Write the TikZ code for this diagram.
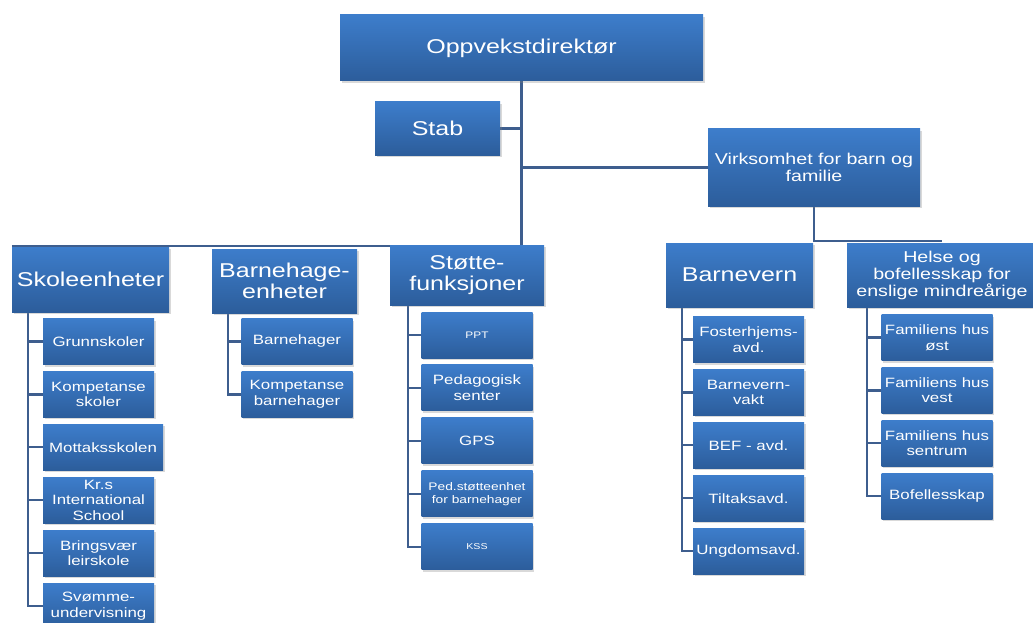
\documentclass[tikz,border=0pt]{standalone}
\usepackage{fontspec}
\setmainfont{Liberation Sans}[FakeStretch=1.25]
\usetikzlibrary{shadows,backgrounds}
\definecolor{boxtop}{RGB}{61,125,203}
\definecolor{boxbot}{RGB}{44,93,155}
\definecolor{linkcol}{RGB}{62,94,142}
\tikzset{
	unit/.style     = {rectangle, top color=boxtop, bottom color=boxbot, text=white, align=center, inner sep=1pt,
	                   drop shadow={shadow xshift=1.5pt, shadow yshift=-2pt, opacity=0.3}},
	head/.style     = {unit, font=\fontsize{20}{21}\selectfont},
	mid/.style      = {unit, font=\fontsize{15.7}{17}\selectfont},
	sub/.style      = {unit, font=\fontsize{13.5}{15.5}\selectfont, minimum width=111pt, minimum height=46pt, node distance=52.9pt},
	smalltxt/.style = {font=\fontsize{9.5}{11}\selectfont},
	link/.style     = {draw=linkcol, line width=2.2pt},
}

\begin{document}
\begin{tikzpicture}[x=1pt, y=-1pt]
		\useasboundingbox (0,0) rectangle (1033,623);
		\clip (0,0) rectangle (1033,623);

		% Draw the top of the chart
		\node[head, minimum width=363pt, minimum height=66pt] (dir) at (521.5,48) {Oppvekstdirektør};
		\node[head, minimum width=125pt, minimum height=53pt] (stab) at (437.5,128.5) {Stab};
		\node[mid , minimum width=212pt, minimum height=77pt] (virk) at (814,167.5) {Virksomhet for barn og\\familie};

		% Draw the unit nodes
		\node[head, minimum width=157pt, minimum height=65pt] (skole)  at (90.5,279.5) {Skoleenheter};
		\node[head, minimum width=145pt, minimum height=64pt] (bhg)    at (284.5,281)  {Barnehage-\\enheter};
		\node[head, minimum width=154pt, minimum height=60pt] (stotte) at (467,275)    {Støtte-\\funksjoner};
		\node[head, minimum width=147pt, minimum height=64pt] (bvern)  at (739.5,275)  {Barnevern};
		\node[mid , minimum width=190pt, minimum height=64pt] (helse)  at (942,275)    {Helse og\\bofellesskap for\\enslige mindreårige};

		% Schools
		\node[sub] (grunn) at (98.5,341.5) {Grunnskoler};
		\node[sub, below of = grunn ] (kompsk) {Kompetanse\\skoler};
		\node[sub, below of = kompsk, minimum width=120pt, xshift=4.5pt] (mottak) {Mottaksskolen};
		\node[sub, below of = mottak, xshift=-4.5pt] (krs) {Kr.s\\International\\School};
		\node[sub, below of = krs   ] (bring) {Bringsvær\\leirskole};
		\node[sub, below of = bring ] (svomme) {Svømme-\\undervisning};

		% Kindergartens
		\node[sub] (bhager) at (297,341.5) {Barnehager};
		\node[sub, below of = bhager] (kompbhg) {Kompetanse\\barnehager};

		% Support functions
		\node[sub, smalltxt] (ppt) at (477,335) {PPT};
		\node[sub, below of = ppt    ] (pedsent) {Pedagogisk\\senter};
		\node[sub, below of = pedsent] (gps) {GPS};
		\node[sub, below of = gps    , font=\fontsize{11}{13}\selectfont] (pedstotte) {Ped.støtteenhet\\for barnehager};
		\node[sub, below of = pedstotte, font=\fontsize{8.5}{10}\selectfont] (kss) {KSS};

		% Child welfare
		\node[sub] (foster) at (748.5,339.5) {Fosterhjems-\\avd.};
		\node[sub, below of = foster] (vakt) {Barnevern-\\vakt};
		\node[sub, below of = vakt  ] (bef) {BEF - avd.};
		\node[sub, below of = bef   ] (tiltak) {Tiltaksavd.};
		\node[sub, below of = tiltak] (ungdom) {Ungdomsavd.};

		% Health and housing
		\node[sub] (fhost) at (937,337.5) {Familiens hus\\øst};
		\node[sub, below of = fhost ] (fhvest) {Familiens hus\\vest};
		\node[sub, below of = fhvest] (fhsentrum) {Familiens hus\\sentrum};
		\node[sub, below of = fhsentrum] (bofell) {Bofellesskap};

		% Connect everything together
		\begin{scope}[on background layer]
			\draw[link] (dir.south) -- (dir.south |- stotte.north);
			\draw[link] (stab.east) -- (stab.east -| dir.south);
			\draw[link] (virk.west) -- (virk.west -| dir.south);
			\draw[link] ([yshift=0.5pt]skole.north west) -- ([yshift=0.5pt]skole.north west -| dir.south);
			\draw[link] (virk.south) |- ([yshift=1.5pt]helse.north);

			\foreach \c in {grunn, kompsk, mottak, krs, bring, svomme}
				\draw[link] ([xshift=16pt]skole.south west) |- (\c.west);
			\foreach \c in {bhager, kompbhg}
				\draw[link] ([xshift=16pt]bhg.south west) |- (\c.west);
			\foreach \c in {ppt, pedsent, gps, pedstotte, kss}
				\draw[link] ([xshift=18pt]stotte.south west) |- (\c.west);
			\foreach \c in {foster, vakt, bef, tiltak, ungdom}
				\draw[link] ([xshift=16pt]bvern.south west) |- (\c.west);
			\foreach \c in {fhost, fhvest, fhsentrum, bofell}
				\draw[link] ([xshift=20pt]helse.south west) |- (\c.west);
		\end{scope}
	\end{tikzpicture}
\end{document}
